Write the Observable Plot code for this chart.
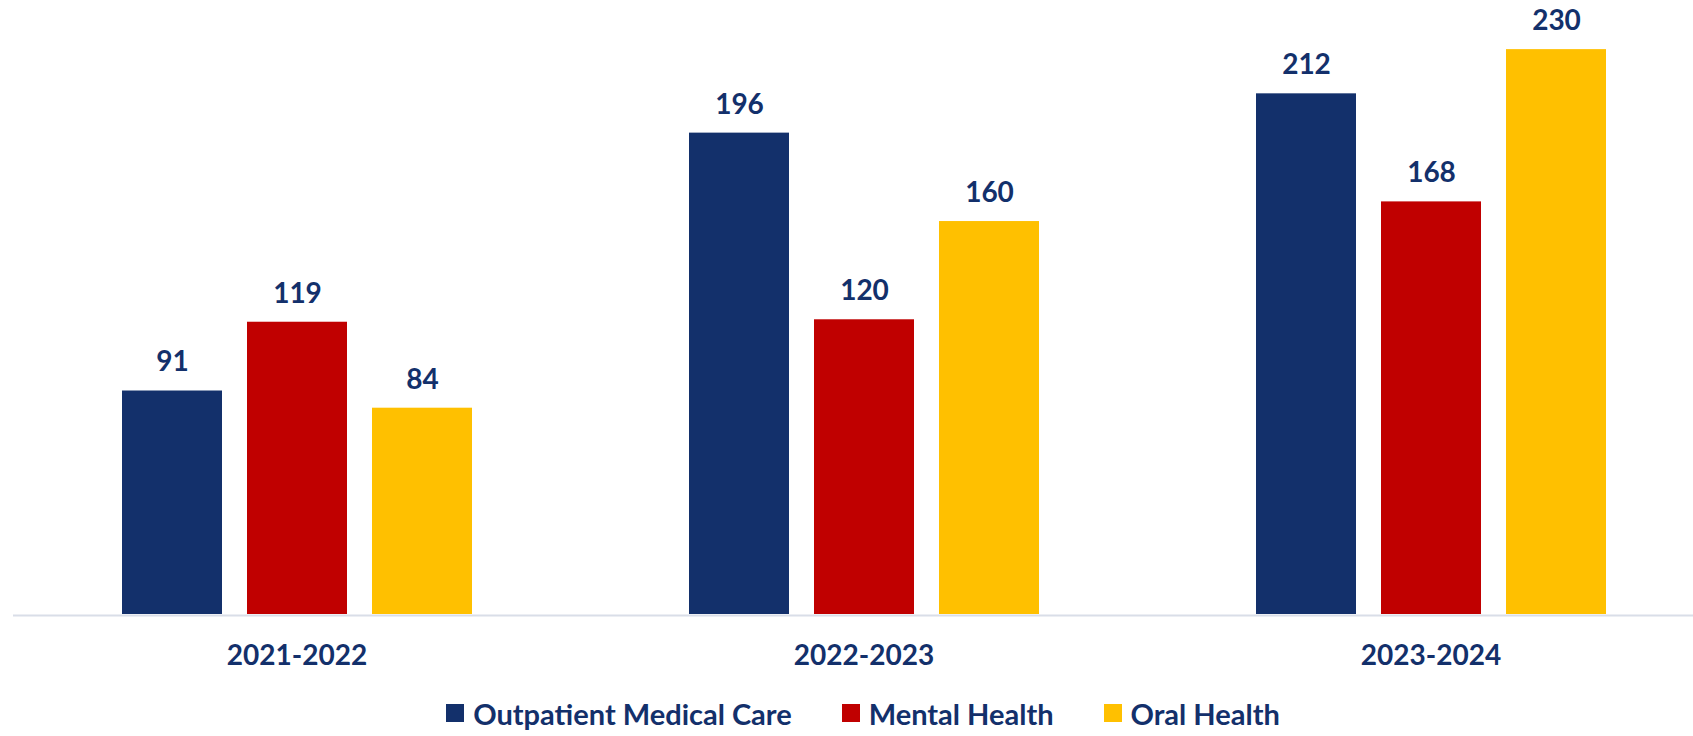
<!DOCTYPE html>
<html>
<head>
<meta charset="utf-8">
<script src="https://cdn.jsdelivr.net/npm/d3@7"></script>
<script src="https://cdn.jsdelivr.net/npm/@observablehq/plot@0.6"></script>
<style>
  html, body { margin: 0; padding: 0; background: #fff; overflow: hidden; }
  #chart { width: 1693px; }
  .legend { display: flex; justify-content: center; align-items: center; height: 46px;
    margin-left: 33px; font-family: Lato, sans-serif; font-weight: 700; font-size: 29px; color: #13306B; }
  .legend .item { display: flex; align-items: center; margin: 0 25px; }
  .legend .sw { width: 18px; height: 18px; margin-right: 9px; display: inline-block; }
</style>
</head>
<body>
<div id="chart"></div>
<script>
const years = ["2021-2022", "2022-2023", "2023-2024"];
const series = ["Outpatient Medical Care", "Mental Health", "Oral Health"];
const outpatient = [91, 196, 212];
const mental = [119, 120, 168];
const oral = [84, 160, 230];
const colors = ["#13306B", "#C00000", "#FFC000"];
const textColor = "#13306B";

const values = [outpatient, mental, oral];
const data = [];
years.forEach((yr, i) => {
  series.forEach((s, j) => data.push({year: yr, series: s, value: values[j][i]}));
});

const chart = Plot.plot({
  width: 1693,
  height: 690,
  marginTop: 0,
  marginBottom: 76,
  marginLeft: 12,
  marginRight: -22,
  style: {fontFamily: "Lato, sans-serif", color: textColor, background: "#fff", overflow: "visible"},
  fx: {domain: years, padding: 0, label: null},
  x: {domain: series, paddingInner: 0.2032, paddingOuter: 0.8625, axis: null},
  y: {domain: [0, 250], axis: null},
  color: {domain: series, range: colors},
  marks: [
    Plot.barY(data, {fx: "year", x: "series", y: "value", fill: "series"}),
    Plot.ruleY([0], {stroke: "#D9DEE8", strokeWidth: 2, dy: 1}),
    Plot.text(data, {fx: "year", x: "series", y: "value", text: d => String(d.value),
      dy: -28.5, fontSize: 28, fontWeight: 700, fill: textColor, lineAnchor: "middle"}),
    Plot.axisFx({anchor: "bottom", tickSize: 0, tickPadding: 31, fontSize: 28, fontWeight: 700, label: null})
  ]
});
document.getElementById("chart").appendChild(chart);

const legend = document.createElement("div");
legend.className = "legend";
series.forEach((s, j) => {
  const item = document.createElement("div");
  item.className = "item";
  const sw = document.createElement("span");
  sw.className = "sw";
  sw.style.background = colors[j];
  const lab = document.createElement("span");
  lab.textContent = s;
  item.appendChild(sw);
  item.appendChild(lab);
  legend.appendChild(item);
});
document.getElementById("chart").appendChild(legend);
</script>
</body>
</html>
